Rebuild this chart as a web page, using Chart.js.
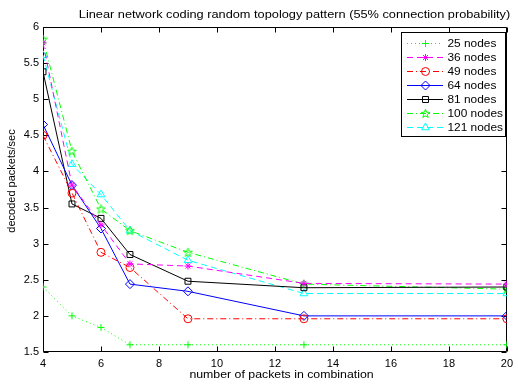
<!DOCTYPE html>
<html>
<head>
<meta charset="utf-8">
<script src="https://cdn.jsdelivr.net/npm/chart.js@4/dist/chart.umd.min.js"></script>
<style>
html, body { margin: 0; padding: 0; background: #fff; }
#wrap { width: 518px; height: 385px; }
</style>
</head>
<body>
<div id="wrap"><canvas id="chart" width="518" height="385"></canvas></div>
<script>
// values
const packets = [4, 5, 6, 7, 9, 13, 20]
const seriesNames = ["25 nodes", "36 nodes", "49 nodes", "64 nodes", "81 nodes", "100 nodes", "121 nodes"]
const nodes25 = [2.40, 2.00, 1.84, 1.60, 1.60, 1.60, 1.60]
const nodes36 = [5.78, 3.81, 3.26, 2.72, 2.69, 2.45, 2.44]
const nodes49 = [4.50, 3.70, 2.88, 2.67, 1.96, 1.96, 1.96]
const nodes64 = [4.65, 3.81, 3.21, 2.44, 2.34, 2.00, 2.00]
const nodes81 = [5.38, 3.55, 3.35, 2.85, 2.48, 2.39, 2.40]
const nodes100 = [5.83, 4.28, 3.48, 3.18, 2.88, 2.44, 2.37]
const nodes121 = [5.61, 4.10, 3.68, 3.18, 2.77, 2.31, 2.31]
const xTicks = [4, 6, 8, 10, 12, 14, 16, 18, 20]
const yTicks = [1.5, 2, 2.5, 3, 3.5, 4, 4.5, 5, 5.5, 6]

const FONT = '"Liberation Sans", Arial, Helvetica, sans-serif'

// 5 pointed star marker (matlab pentagram), chart.js has none
makePentagram = (color) => {
	const c = document.createElement("canvas")
	c.width = 11
	c.height = 11
	const g = c.getContext("2d")
	g.strokeStyle = color
	g.lineWidth = 1
	g.beginPath()
	for (let i = 0; i < 10; i++) {
		const r = i % 2 === 0 ? 4.6 : 1.9
		const a = -Math.PI / 2 + i * Math.PI / 5
		const px = 5.5 + r * Math.cos(a)
		const py = 5.8 + r * Math.sin(a)
		if (i === 0) g.moveTo(px, py)
		else g.lineTo(px, py)
	}
	g.closePath()
	g.stroke()
	return c
}

const styles = [
	{color: "#00ff00", dash: [1, 3], marker: "cross", radius: 3.5},
	{color: "#ff00ff", dash: [6, 4], marker: "star", radius: 3.5},
	{color: "#ff0000", dash: [6, 3, 1, 3], marker: "circle", radius: 4},
	{color: "#0000ff", dash: [], marker: "rectRot", radius: 4.5},
	{color: "#000000", dash: [], marker: "rect", radius: 4.2},
	{color: "#00ff00", dash: [6, 3, 1, 3], marker: makePentagram("#00ff00"), radius: 5},
	{color: "#00ffff", dash: [6, 4], marker: "triangle", radius: 4.5}
]
const allSeries = [nodes25, nodes36, nodes49, nodes64, nodes81, nodes100, nodes121]

const datasets = allSeries.map((vals, i) => ({
	label: seriesNames[i],
	data: packets.map((p, j) => ({x: p, y: vals[j]})),
	borderColor: styles[i].color,
	borderWidth: 1,
	borderDash: styles[i].dash,
	pointStyle: styles[i].marker,
	pointRadius: styles[i].radius,
	pointBorderColor: styles[i].color,
	pointBackgroundColor: "rgba(0,0,0,0)",
	pointBorderWidth: 1,
	tension: 0,
	fill: false
}))

// the reference text is a bit wider than it is tall, so stretch it sideways
wideText = (ctx, text, x, y, sx) => {
	ctx.save()
	ctx.translate(x, y)
	ctx.scale(sx, 1)
	ctx.fillText(text, 0, 0)
	ctx.restore()
}

// box with inward ticks on all four sides, like matlab axes
const boxPlugin = {
	id: "box",
	beforeDatasetsDraw(chart) {
		const {ctx, chartArea: a, scales: {x, y}} = chart
		const L = Math.round(a.left) + 0.5, R = Math.round(a.right) - 0.5
		const T = Math.round(a.top) + 0.5, B = Math.round(a.bottom) - 0.5
		ctx.save()
		ctx.strokeStyle = "#000"
		ctx.lineWidth = 1
		ctx.beginPath()
		ctx.rect(L, T, R - L, B - T)
		xTicks.forEach(v => {
			const px = Math.round(x.getPixelForValue(v)) + 0.5
			ctx.moveTo(px, B); ctx.lineTo(px, B - 5)
			ctx.moveTo(px, T); ctx.lineTo(px, T + 5)
		})
		yTicks.forEach(v => {
			const py = Math.round(y.getPixelForValue(v)) + 0.5
			ctx.moveTo(L, py); ctx.lineTo(L + 5, py)
			ctx.moveTo(R, py); ctx.lineTo(R - 5, py)
		})
		ctx.stroke()
		ctx.restore()
	},
	afterDraw(chart) {
		const ctx = chart.ctx
		ctx.save()
		ctx.fillStyle = "#000"
		ctx.textAlign = "center"
		ctx.textBaseline = "middle"
		ctx.font = "11.5px " + FONT
		wideText(ctx, "Linear network coding random topology pattern (55% connection probability)", 294.5, 15, 1.11)
		ctx.font = "11px " + FONT
		wideText(ctx, "number of packets in combination", 281.5, 375, 1.12)
		ctx.save()
		ctx.translate(12, 181)
		ctx.rotate(-Math.PI / 2)
		ctx.fillText("decoded packets/sec", 0, 0)
		ctx.restore()

		// legend
		const lx = 401.5, ly = 32.5, lw = 104, lh = 104
		ctx.fillStyle = "#fff"
		ctx.fillRect(lx, ly, lw, lh)
		ctx.strokeStyle = "#000"
		ctx.lineWidth = 1
		ctx.strokeRect(lx, ly, lw, lh)
		seriesNames.forEach((name, i) => {
			const st = styles[i]
			const yy = Math.round(42.7 + i * 14.1) + 0.5
			ctx.strokeStyle = st.color
			ctx.setLineDash(st.dash)
			ctx.beginPath()
			ctx.moveTo(407, yy)
			ctx.lineTo(443, yy)
			ctx.stroke()
			ctx.setLineDash([])
			ctx.fillStyle = "rgba(0,0,0,0)"
			Chart.helpers.drawPoint(ctx, {pointStyle: st.marker, radius: st.radius, rotation: 0, borderWidth: 1}, 425.5, yy)
			ctx.fillStyle = "#000"
			ctx.textAlign = "left"
			wideText(ctx, name, 447.5, yy, 1.08)
		})
		ctx.restore()
	}
}

const chart = new Chart(document.getElementById("chart"), {
	type: "line",
	data: {datasets: datasets},
	options: {
		responsive: false,
		animation: false,
		layout: {padding: {left: 0, right: 6, top: 27, bottom: 0}},
		plugins: {legend: {display: false}, tooltip: {enabled: false}},
		scales: {
			x: {
				type: "linear",
				min: 4,
				max: 20,
				afterBuildTicks: s => { s.ticks = xTicks.map(v => ({value: v})) },
				afterFit: s => { s.height = 33 },
				grid: {display: false, drawTicks: false},
				border: {display: false},
				ticks: {color: "#000", font: {family: FONT, size: 11}, padding: 5, maxRotation: 0, callback: v => String(v)}
			},
			y: {
				type: "linear",
				min: 1.5,
				max: 6,
				afterBuildTicks: s => { s.ticks = yTicks.map(v => ({value: v})) },
				afterFit: s => { s.width = 43 },
				grid: {display: false, drawTicks: false},
				border: {display: false},
				ticks: {color: "#000", font: {family: FONT, size: 11}, padding: 4, callback: v => String(v)}
			}
		}
	},
	plugins: [boxPlugin]
})
</script>
</body>
</html>
